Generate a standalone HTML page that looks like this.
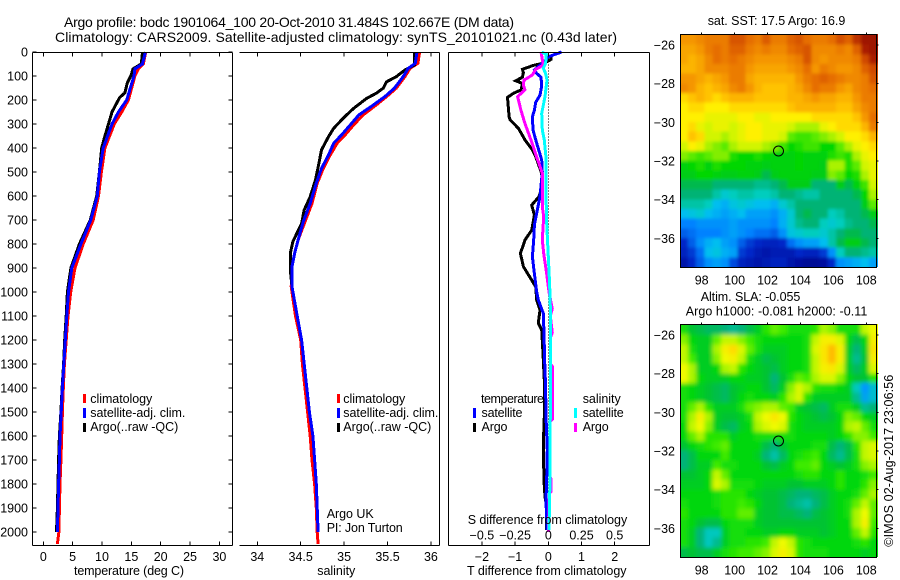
<!DOCTYPE html>
<html lang="en">
<head>
<meta charset="utf-8">
<title>Argo profile bodc 1901064_100</title>
<style>
  html, body { margin: 0; padding: 0; background: #fff; }
  body { width: 900px; height: 580px; overflow: hidden; }
  svg { display: block; }
  text { font-family: "Liberation Sans", sans-serif; font-size: 12.5px; fill: #000; }
  .ttl { font-size: 14px; }
  .line { fill: none; stroke-width: 3; stroke-linejoin: miter; shape-rendering: crispEdges; }
  .ax { stroke: #000; stroke-width: 1; shape-rendering: crispEdges; fill: none; }
  .key { shape-rendering: crispEdges; }
</style>
</head>
<body>
<svg id="chart" xmlns="http://www.w3.org/2000/svg" width="900" height="580" viewBox="0 0 900 580">
  <defs>
    <filter id="sstBlur" x="-10%" y="-10%" width="120%" height="120%"><feGaussianBlur stdDeviation="1.5"/></filter>
    <filter id="slaBlur" x="-10%" y="-10%" width="120%" height="120%"><feGaussianBlur stdDeviation="2"/></filter>
    <clipPath id="sstClip"><rect x="680" y="34" width="198" height="233"/></clipPath>
    <clipPath id="slaClip"><rect x="680" y="324" width="198" height="233"/></clipPath>
  </defs>
  <rect x="0" y="0" width="900" height="580" fill="#fff"/>
  <text class="ttl" x="64" y="27" textLength="450">Argo profile: bodc 1901064_100 20-Oct-2010 31.484S 102.667E (DM data)</text>
  <text class="ttl" x="55" y="42" textLength="562">Climatology: CARS2009. Satellite-adjusted climatology: synTS_20101021.nc (0.43d later)</text>

  <g id="marks"></g>
  <g id="axes"></g>

  <!-- temperature panel labels -->
  <text x="74" y="575" textLength="110">temperature (deg C)</text>
  <rect class="key" x="83" y="394" width="3" height="9" fill="#ff0000"/>
  <rect class="key" x="83" y="408" width="3" height="10" fill="#0000ff"/>
  <rect class="key" x="83" y="423" width="3" height="9" fill="#000000"/>
  <text x="90.3" y="403" textLength="62">climatology</text>
  <text x="90.3" y="417" textLength="95">satellite-adj. clim.</text>
  <text x="90.3" y="431" textLength="88">Argo(..raw -QC)</text>

  <!-- salinity panel labels -->
  <text x="317.3" y="575" textLength="38">salinity</text>
  <rect class="key" x="337" y="394" width="3" height="9" fill="#ff0000"/>
  <rect class="key" x="337" y="408" width="3" height="10" fill="#0000ff"/>
  <rect class="key" x="337" y="423" width="3" height="9" fill="#000000"/>
  <text x="343.3" y="403" textLength="62">climatology</text>
  <text x="343.3" y="417" textLength="95">satellite-adj. clim.</text>
  <text x="343.3" y="431" textLength="88">Argo(..raw -QC)</text>
  <text x="326.7" y="518" textLength="47">Argo UK</text>
  <text x="326.7" y="532" textLength="76">PI: Jon Turton</text>

  <!-- difference panel labels -->
  <text x="481" y="403" textLength="63">temperature</text>
  <text x="481.5" y="417" textLength="41">satellite</text>
  <text x="481.5" y="431" textLength="26">Argo</text>
  <rect class="key" x="473" y="408" width="3" height="10" fill="#0000ff"/>
  <rect class="key" x="473" y="423" width="3" height="9" fill="#000000"/>
  <text x="582.7" y="403" textLength="38">salinity</text>
  <text x="582.7" y="417" textLength="41">satellite</text>
  <text x="582.7" y="431" textLength="26">Argo</text>
  <rect class="key" x="574" y="408" width="3" height="10" fill="#00ffff"/>
  <rect class="key" x="574" y="423" width="3" height="9" fill="#ff00ff"/>
  <text x="467.7" y="524" textLength="159.5">S difference from climatology</text>
  <text x="467" y="575" textLength="159.5">T difference from climatology</text>

  <!-- map titles -->
  <text x="707.7" y="25" textLength="137.6">sat. SST: 17.5 Argo: 16.9</text>
  <text x="700.7" y="301" textLength="99.6">Altim. SLA: -0.055</text>
  <text x="685.7" y="315.7" textLength="181.6">Argo h1000: -0.081 h2000: -0.11</text>
  <text transform="translate(893 546.7) rotate(-90)" x="0" y="0" textLength="172">©IMOS 02-Aug-2017 23:06:56</text>
</svg>

<script>
// ---- temperature profiles (deg C) ----
const climTempDepth = [0,50,70,100,200,250,300,400,500,600,700,800,900,1000,1100,1200,1300,1400,1500,1600,1700,1800,1900,2000,2050];
const climTempValue = [17.44,17.04,16.2,15.6,14.5,13.35,12.1,10.5,9.9,9.4,8.5,6.8,5.4,4.67,4.2,3.9,3.6,3.4,3.25,3.13,3.0,2.85,2.75,2.65,2.4];
const satTempDepth = [0,50,70,100,200,250,300,400,500,600,700,800,900,1000,1100,1200,1300,1400,1500,1600,1700,1800,1900,2000];
const satTempValue = [17.4,16.9,15.6,15.45,14.2,12.8,11.7,10.2,9.55,9.2,8.1,6.4,4.85,4.3,4.0,3.75,3.5,3.25,3.05,2.85,2.75,2.6,2.5,2.4];
const argoTempDepth = [0,50,70,100,130,170,190,250,300,350,400,500,600,700,800,900,1000,1100,1200,1300,1400,1500,1600,1700,1800,1900,2000];
const argoTempValue = [16.9,16.7,15.3,14.9,14.3,13.9,13,11.7,11.1,10.5,9.95,9.55,9.1,8,6.15,4.7,4.1,3.9,3.65,3.45,3.2,3.0,2.75,2.6,2.5,2.4,2.25];

// ---- salinity profiles ----
const climSalDepth = [0,47,68,103,151,186,221,262,304,346,380,429,485,547,631,707,783,839,894,978,1100,1200,1300,1400,1500,1600,1700,1800,1900,2000,2050];
const climSalValue = [35.87,35.85,35.76,35.70,35.60,35.49,35.37,35.22,35.11,35.01,34.92,34.84,34.76,34.69,34.63,34.55,34.47,34.43,34.40,34.39,34.44,34.5,34.52,34.55,34.58,34.61,34.63,34.66,34.68,34.69,34.7];
const satSalDepth = [0,47,68,103,151,186,225,262,304,346,380,429,485,547,631,707,783,839,894,978,1100,1200,1300,1400,1500,1600,1700,1800,1900,2000];
const satSalValue = [35.84,35.82,35.74,35.68,35.58,35.47,35.32,35.17,35.07,34.97,34.88,34.82,34.74,34.68,34.61,34.53,34.47,34.43,34.40,34.40,34.46,34.51,34.54,34.57,34.6,34.64,34.66,34.68,34.69,34.7];
const argoSalDepth = [0,54,75,103,124,151,172,193,235,272,318,353,408,464,533,603,658,714,790,839,908,978,1100,1200,1300,1400,1500,1600,1700,1800,1900,2000];
const argoSalValue = [35.81,35.81,35.70,35.60,35.49,35.45,35.37,35.26,35.11,35.0,34.88,34.82,34.74,34.71,34.67,34.61,34.54,34.51,34.41,34.38,34.38,34.40,34.46,34.51,34.54,34.57,34.6,34.64,34.66,34.68,34.69,34.7];

// ---- differences from climatology ----
const satDiffTDepth = [0,20,40,61,75,89,105,140,180,210,242,270,325,380,450,500,603,650,720,783,853,900,1000,1033,1089,1172,1283,1394,1519,1658,1797,1867,1992];
const satDiffTValue = [0.40,0,-0.12,-0.30,-0.42,-0.35,-0.22,-0.20,-0.25,-0.38,-0.42,-0.48,-0.46,-0.35,-0.20,-0.18,-0.25,-0.32,-0.42,-0.44,-0.48,-0.44,-0.35,-0.30,-0.15,-0.13,-0.11,-0.08,-0.07,-0.03,-0.05,-0.07,-0.04];
const argoDiffTDepth = [10,31,45,56,72,86,105,120,131,158,172,189,270,283,318,367,408,436,506,561,603,638,679,742,783,839,894,978,1033,1075,1130,1158,1255,1366,1519,1589,1728,1811,1853,1894,1992];
const argoDiffTValue = [0.08,0.08,-0.10,-0.45,-0.78,-0.75,-0.78,-0.98,-0.78,-0.82,-1.05,-1.23,-1.18,-1.15,-0.90,-0.70,-0.48,-0.38,-0.20,-0.18,-0.28,-0.50,-0.42,-0.50,-0.70,-0.84,-0.75,-0.38,-0.35,-0.25,-0.30,-0.20,-0.16,-0.12,-0.12,-0.14,-0.14,-0.12,-0.10,-0.05,-0.05];
const satDiffSDepth = [0,10,47,68,89,117,186,256,325,367,436,575,714,853,964,1061,1500,1800,1992];
const satDiffSValue = [-0.05,-0.015,-0.02,-0.038,-0.02,-0.01,-0.025,-0.05,-0.045,-0.03,-0.018,-0.018,-0.012,0,0.01,0.015,0.015,0.012,0.005];
const argoDiffSDepth = [0,31,55,72,96,117,138,158,186,242,297,367,436,506,561,644,686,783,839,922,1000,1070,1100,1170,1190,1300,1310,1530,1540,1770,1780,1830,1840,2000];
const argoDiffSValue = [-0.055,-0.045,-0.038,-0.095,-0.12,-0.183,-0.188,-0.176,-0.231,-0.206,-0.176,-0.13,-0.088,-0.045,-0.045,-0.045,-0.035,-0.045,-0.035,-0.013,0.005,0.03,0.015,0.03,0.015,0.015,0.03,0.03,0.012,0.012,0.022,0.022,0.008,0];

// ---- tick labels ----
const depthTicks = [0,100,200,300,400,500,600,700,800,900,1000,1100,1200,1300,1400,1500,1600,1700,1800,1900,2000];
const tempTicks = [0,5,10,15,20,25,30];
const salTicks = [34,34.5,35,35.5,36];
const diffTTicks = [-2,-1,0,1,2];
const diffSTicks = [-0.5,-0.25,0,0.25,0.5];
const lonTicks = [98,100,102,104,106,108];
const latTicks = [-26,-28,-30,-32,-34,-36];

// ---- Argo float position ----
const floatLon = 102.667;
const floatLat = -31.484;

// ---- SST map: colour index 0-100, rows north to south, cols west to east ----
const sstGrid = [
[76,76,78,80,80,80,86,86,82,80,85,80,80,84,86,82,80,80,82,87,84,92,97,97],
[74,74,76,80,82,80,84,84,80,78,80,78,78,82,84,86,78,78,78,80,78,84,95,97],
[74,72,74,78,82,80,82,80,78,76,76,76,76,78,80,86,78,76,78,78,78,80,88,95],
[72,72,74,78,78,78,80,80,76,74,74,74,74,76,78,82,76,80,78,76,76,78,84,88],
[76,76,74,72,74,76,80,80,74,72,72,72,72,72,76,80,82,84,82,80,78,78,80,86],
[78,76,72,70,72,74,78,80,76,72,70,70,70,72,74,78,82,80,80,76,74,78,80,82],
[68,70,72,70,68,70,72,72,72,70,70,70,70,72,72,74,76,74,74,72,72,76,80,80],
[66,68,68,66,66,66,68,68,68,68,68,68,68,70,72,72,72,72,72,70,70,74,78,80],
[66,66,66,64,64,64,64,66,66,64,64,66,66,66,66,66,68,68,68,68,68,70,76,82],
[66,68,64,62,64,64,62,64,66,66,64,64,64,62,60,60,60,64,66,68,68,68,72,80],
[66,70,68,62,62,60,62,64,66,66,64,64,62,56,54,54,56,58,60,62,66,66,68,72],
[62,66,64,60,58,56,60,62,62,62,60,58,54,50,52,54,54,50,50,56,60,64,66,68],
[58,56,54,56,58,58,52,50,50,52,50,48,48,48,50,48,48,48,52,54,52,60,64,66],
[48,50,52,48,52,50,50,50,48,48,46,48,48,48,50,48,48,46,60,60,52,56,62,64],
[46,46,50,50,48,46,46,48,48,46,44,46,48,48,48,48,46,46,58,56,50,52,60,64],
[44,44,44,44,42,42,42,42,42,40,40,42,44,46,46,46,42,42,42,46,44,48,54,62],
[42,42,42,42,38,34,36,38,38,36,36,38,42,42,40,38,38,42,42,42,42,44,50,60],
[38,38,38,36,30,28,32,34,32,30,30,28,34,38,42,42,42,42,42,42,42,42,46,56],
[30,32,34,30,28,26,28,30,26,26,26,24,28,34,42,44,42,42,36,38,42,42,44,46],
[22,22,24,24,24,24,26,24,24,24,24,22,28,34,40,42,42,36,34,36,40,42,42,44],
[18,20,22,22,22,24,26,24,22,20,20,18,24,32,34,36,36,34,38,42,44,44,42,42],
[12,18,24,28,30,26,24,18,14,12,10,10,12,20,24,26,26,30,38,44,46,46,44,42],
[10,14,20,30,32,28,26,14,12,8,6,8,8,8,12,10,10,14,24,36,42,42,40,38],
[6,12,18,24,26,24,16,10,8,6,8,10,10,6,4,2,2,4,12,24,26,28,30,26]
];

// ---- Altimeter SLA map: colour index 0-100 ----
const slaGrid = [
[50,44,42,40,40,38,36,38,42,46,52,56,54,50,50,50,52,60,58,50,50,50,62,66],
[58,48,46,46,56,62,62,58,54,50,48,48,48,48,48,50,62,68,68,64,48,42,48,68],
[62,50,46,46,60,68,72,64,56,50,46,46,46,48,48,50,64,70,76,68,46,38,46,70],
[62,54,46,46,58,66,68,62,50,46,42,44,46,48,48,50,62,70,76,68,46,36,44,68],
[66,60,46,46,48,60,62,52,48,46,44,42,46,48,48,50,62,68,70,64,46,40,46,64],
[66,60,48,46,46,46,48,48,46,46,44,38,44,50,56,54,60,64,64,58,48,44,44,52],
[50,48,46,44,42,40,44,46,48,48,44,40,46,58,64,60,52,50,50,48,46,32,24,30],
[50,48,46,44,42,40,44,48,50,48,48,46,52,60,64,52,46,46,46,46,46,36,26,30],
[50,56,60,52,46,46,46,50,56,58,60,60,56,54,46,44,42,40,46,50,50,46,36,38],
[50,60,68,60,46,44,44,46,50,62,66,70,66,52,48,46,44,42,44,48,58,56,48,46],
[48,62,66,58,46,42,40,46,48,60,64,66,64,50,48,46,46,46,46,48,60,62,56,50],
[48,56,60,52,52,52,46,48,48,50,50,50,50,50,48,48,48,48,46,48,52,58,58,54],
[44,48,50,52,54,56,48,48,48,48,42,38,44,48,48,48,50,50,42,38,42,52,62,64],
[38,42,48,48,48,54,48,48,48,46,38,34,40,48,50,52,54,48,40,36,42,50,62,64],
[38,42,46,46,54,50,50,48,48,48,44,42,46,48,54,54,56,48,46,44,46,50,58,60],
[44,44,46,48,62,56,48,48,48,48,48,48,48,48,50,52,52,48,48,52,48,48,50,54],
[46,46,46,48,64,60,50,50,50,48,46,46,46,44,44,46,46,46,48,52,48,48,52,58],
[48,48,48,48,50,52,52,52,48,46,44,44,42,40,38,38,40,42,46,48,48,50,56,60],
[50,48,48,48,50,52,52,54,52,48,44,44,42,38,36,34,38,42,46,48,50,56,62,56],
[52,48,48,48,48,52,52,56,56,46,44,44,42,42,40,38,42,44,46,48,50,60,66,56],
[50,48,44,42,42,48,50,50,50,46,44,44,44,44,44,44,44,44,46,48,48,60,68,54],
[50,46,38,32,32,46,50,50,48,48,46,46,48,48,46,46,46,44,46,48,48,56,62,52],
[50,46,38,32,36,46,50,50,52,52,54,62,66,62,52,50,48,48,48,48,48,50,52,48],
[42,44,42,42,46,50,52,54,54,56,58,64,68,64,52,50,50,50,48,48,48,48,46,48]
];

const SVGNS = 'http://www.w3.org/2000/svg';
const marksLayer = document.getElementById('marks');
const axesLayer = document.getElementById('axes');

// ---- axis functions ----
const yDepth = d => 52 + d * 0.24;
const xTemp = t => 43.3 + t * 5.87;
const xSal = s => 257.3 + (s - 34) * 86.8;
const xDiffT = t => 548.3 + t * 33.2;
const xDiffS = s => 548.3 + s * 132.8;
const xLon = lon => 701.7 + (lon - 98) * 16.46;
const yLatSst = lat => 45 + (-26 - lat) * 19.33;
const yLatSla = lat => 335 + (-26 - lat) * 19.33;

function drawLine(x1, y1, x2, y2, name) {
  const el = document.createElementNS(SVGNS, 'line');
  el.setAttribute('x1', x1);
  el.setAttribute('y1', y1);
  el.setAttribute('x2', x2);
  el.setAttribute('y2', y2);
  el.setAttribute('class', 'ax');
  
  
  axesLayer.appendChild(el);
  return el;
}

function drawLabel(x, y, txt, anchor, name) {
  const el = document.createElementNS(SVGNS, 'text');
  el.setAttribute('x', x);
  el.setAttribute('y', y);
  el.setAttribute('text-anchor', anchor);
  
  
  el.textContent = txt;
  axesLayer.appendChild(el);
  return el;
}

function drawProfile(depths, values, xFn, color, name) {
  const el = document.createElementNS(SVGNS, 'polyline');
  const pts = depths.map((d, i) => xFn(values[i]).toFixed(1) + ',' + yDepth(d).toFixed(1));
  el.setAttribute('points', pts.join(' '));
  el.setAttribute('class', 'line');
  el.setAttribute('stroke', color);
  
  
  marksLayer.appendChild(el);
  return el;
}

const fmtMinus = v => String(v).replace('-', '\u2212');

// ---- profile panel frames ----
const panelTop = 52.5;
const panelBottom = 545.5;

// temperature panel
drawLine(32.5, panelTop, 232.5, panelTop, 'temperature-panel-top-border');
drawLine(32.5, panelBottom, 232.5, panelBottom, 'temperature-panel-bottom-axis');
drawLine(32.5, panelTop, 32.5, panelBottom, 'temperature-panel-left-axis');
drawLine(232.5, panelTop, 232.5, panelBottom, 'temperature-panel-right-border');
depthTicks.forEach(d => {
  drawLine(32.5, yDepth(d), 36.5, yDepth(d), 'depth-tick-left');
  drawLine(228.5, yDepth(d), 232.5, yDepth(d), 'depth-tick-right');
  drawLabel(28, yDepth(d) + 4.5, String(d), 'end', 'depth-tick-label');
});
tempTicks.forEach(t => {
  drawLine(xTemp(t), panelTop, xTemp(t), panelTop + 4, 'temperature-tick-top');
  drawLine(xTemp(t), panelBottom, xTemp(t), panelBottom - 4, 'temperature-tick-bottom');
  drawLabel(xTemp(t), 561, String(t), 'middle', 'temperature-tick-label');
});

// salinity panel (no left border in the reference)
drawLine(239.5, panelTop, 439.5, panelTop, 'salinity-panel-top-border');
drawLine(239.5, panelBottom, 439.5, panelBottom, 'salinity-panel-bottom-axis');
drawLine(439.5, panelTop, 439.5, panelBottom, 'salinity-panel-right-border');
salTicks.forEach(s => {
  drawLine(xSal(s), panelTop, xSal(s), panelTop + 4, 'salinity-tick-top');
  drawLine(xSal(s), panelBottom, xSal(s), panelBottom - 4, 'salinity-tick-bottom');
  drawLabel(xSal(s), 561, String(s), 'middle', 'salinity-tick-label');
});

// difference panel
drawLine(448.5, panelTop, 649.5, panelTop, 'difference-panel-top-border');
drawLine(448.5, panelBottom, 649.5, panelBottom, 'difference-panel-bottom-axis');
drawLine(448.5, panelTop, 448.5, panelBottom, 'difference-panel-left-border');
drawLine(649.5, panelTop, 649.5, panelBottom, 'difference-panel-right-border');
diffTTicks.forEach(t => {
  drawLine(xDiffT(t), panelTop, xDiffT(t), panelTop + 4, 'difference-tick-top');
  drawLine(xDiffT(t), panelBottom, xDiffT(t), panelBottom - 4, 'difference-tick-bottom');
  drawLabel(xDiffT(t), 561, fmtMinus(t), 'middle', 'difference-t-tick-label');
});
diffSTicks.forEach(s => {
  drawLabel(xDiffS(s), 539.5, fmtMinus(s), 'middle', 'difference-s-tick-label');
});
const zeroLine = drawLine(xDiffT(0), panelTop, xDiffT(0), 530, 'difference-zero-line');
zeroLine.setAttribute('stroke-dasharray', '1 2');
marksLayer.appendChild(zeroLine);

// ---- profile series ----
drawProfile(climTempDepth, climTempValue, xTemp, '#ff0000', 'temperature-climatology-line');
drawProfile(argoTempDepth, argoTempValue, xTemp, '#000000', 'temperature-argo-line');
drawProfile(satTempDepth, satTempValue, xTemp, '#0000ff', 'temperature-satellite-line');
drawProfile(climSalDepth, climSalValue, xSal, '#ff0000', 'salinity-climatology-line');
drawProfile(argoSalDepth, argoSalValue, xSal, '#000000', 'salinity-argo-line');
drawProfile(satSalDepth, satSalValue, xSal, '#0000ff', 'salinity-satellite-line');
drawProfile(argoDiffTDepth, argoDiffTValue, xDiffT, '#000000', 'difference-t-argo-line');
drawProfile(satDiffTDepth, satDiffTValue, xDiffT, '#0000ff', 'difference-t-satellite-line');
drawProfile(argoDiffSDepth, argoDiffSValue, xDiffS, '#ff00ff', 'difference-s-argo-line');
drawProfile(satDiffSDepth, satDiffSValue, xDiffS, '#00ffff', 'difference-s-satellite-line');

// ---- colour maps ----
const sstStops = [
  [0,0,0,140],[12,0,40,200],[22,0,130,255],[30,0,190,240],[36,0,205,190],[43,0,175,105],
  [46,0,205,25],[50,0,215,5],[56,90,235,0],[62,210,245,0],[66,255,240,0],[70,255,195,0],
  [76,245,150,0],[82,230,110,0],[90,200,60,0],[100,140,0,0]
];
const slaStops = [
  [0,0,0,140],[24,0,150,255],[32,0,200,190],[38,0,180,120],[44,0,195,50],[48,0,215,15],
  [54,60,235,0],[60,170,245,0],[66,240,250,0],[72,255,220,0],[78,255,170,0],[100,200,60,0]
];
function colourOf(v, stops) {
  for (let i = 1; i < stops.length; i++) {
    const a = stops[i - 1];
    const b = stops[i];
    if (v <= b[0]) {
      const f = (v - a[0]) / (b[0] - a[0]);
      const c = [1, 2, 3].map(k => Math.round(a[k] + (b[k] - a[k]) * f));
      return 'rgb(' + c.join(',') + ')';
    }
  }
  const last = stops[stops.length - 1];
  return 'rgb(' + last[1] + ',' + last[2] + ',' + last[3] + ')';
}

// ---- maps ----
const lonWest = floatLon - 6;
const latNorth = floatLat + 6;
const lonSpan = 12;
const latSpan = 12;
const edgePad = 12;

function drawMap(grid, stops, yFn, prefix) {
  const rows = grid.length;
  const clipGroup = document.createElementNS(SVGNS, 'g');
  clipGroup.setAttribute('clip-path', 'url(#' + prefix + 'Clip)');
  
  
  marksLayer.appendChild(clipGroup);
  const blurGroup = document.createElementNS(SVGNS, 'g');
  blurGroup.setAttribute('filter', 'url(#' + prefix + 'Blur)');
  
  
  clipGroup.appendChild(blurGroup);
  grid.forEach((row, r) => {
    const cols = row.length;
    row.forEach((v, c) => {
      const lon0 = lonWest + c * lonSpan / cols;
      const lon1 = lonWest + (c + 1) * lonSpan / cols;
      const lat0 = latNorth - r * latSpan / rows;
      const lat1 = latNorth - (r + 1) * latSpan / rows;
      // outer cells run past the frame so the blur does not fade at the clipped edge
      const x0 = xLon(lon0) - (c === 0 ? edgePad : 0);
      const x1 = xLon(lon1) + (c === cols - 1 ? edgePad : 0);
      const y0 = yFn(lat0) - (r === 0 ? edgePad : 0);
      const y1 = yFn(lat1) + (r === rows - 1 ? edgePad : 0);
      const el = document.createElementNS(SVGNS, 'rect');
      el.setAttribute('x', x0.toFixed(2));
      el.setAttribute('y', y0.toFixed(2));
      el.setAttribute('width', (x1 - x0).toFixed(2));
      el.setAttribute('height', (y1 - y0).toFixed(2));
      el.setAttribute('fill', colourOf(v, stops));
      el.setAttribute('shape-rendering', 'crispEdges');
      
      
      blurGroup.appendChild(el);
    });
  });
  const left = Math.round(xLon(lonWest)) + 0.5;
  const right = Math.round(xLon(lonWest + lonSpan)) - 0.5;
  const top = Math.round(yFn(latNorth)) - 0.5;
  const bottom = Math.round(yFn(latNorth - latSpan)) + 0.5;
  const frame = document.createElementNS(SVGNS, 'rect');
  frame.setAttribute('x', left);
  frame.setAttribute('y', top);
  frame.setAttribute('width', right - left);
  frame.setAttribute('height', bottom - top);
  frame.setAttribute('class', 'ax');
  
  
  axesLayer.appendChild(frame);
  lonTicks.forEach(lon => {
    drawLine(xLon(lon), top, xLon(lon), top - 2, prefix + '-lon-tick');
    drawLabel(xLon(lon), bottom + 17, String(lon), 'middle', prefix + '-lon-tick-label');
  });
  latTicks.forEach(lat => {
    drawLine(right, yFn(lat), right + 2, yFn(lat), prefix + '-lat-tick');
    drawLabel(675, yFn(lat) + 4.5, fmtMinus(lat), 'end', prefix + '-lat-tick-label');
  });
  const marker = document.createElementNS(SVGNS, 'circle');
  marker.setAttribute('cx', xLon(floatLon).toFixed(1));
  marker.setAttribute('cy', yFn(floatLat).toFixed(1));
  marker.setAttribute('r', '5');
  marker.setAttribute('fill', 'none');
  marker.setAttribute('stroke', '#000');
  marker.setAttribute('stroke-width', '1');
  
  
  axesLayer.appendChild(marker);
}

drawMap(sstGrid, sstStops, yLatSst, 'sst');
drawMap(slaGrid, slaStops, yLatSla, 'sla');
</script>
</body>
</html>
